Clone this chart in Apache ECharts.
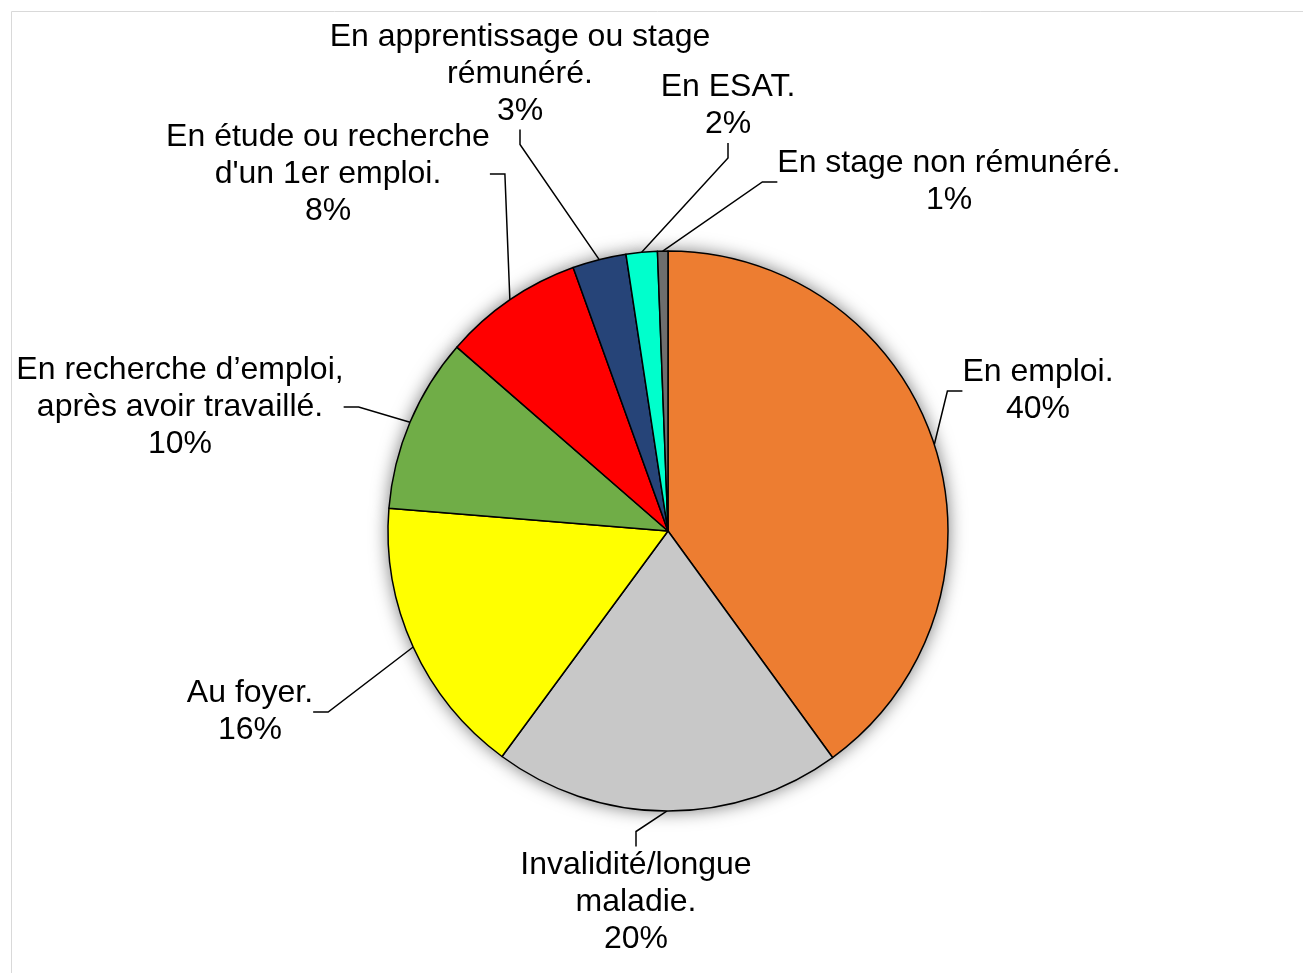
<!DOCTYPE html>
<html>
<head>
<meta charset="utf-8">
<script src="https://cdn.jsdelivr.net/npm/echarts@6/dist/echarts.min.js"></script>
<style>
  html, body { margin: 0; padding: 0; background: #fff; }
  #chart { width: 1303px; height: 973px; }
</style>
</head>
<body>
<div id="chart"></div>
<script>
// situation des répondants (parts en %)
const categories = [
  "En emploi.",
  "Invalidité/longue\nmaladie.",
  "Au foyer.",
  "En recherche d\u2019emploi,\naprès avoir travaillé.",
  "En étude ou recherche\nd'un 1er emploi.",
  "En apprentissage ou stage\nrémunéré.",
  "En ESAT.",
  "En stage non rémunéré."
];
const values = [40.0, 20.1, 16.2, 10.1, 8.1, 3.1, 1.8, 0.6];
const colors = ["#ED7D31", "#C8C8C8", "#FFFF00", "#70AD47", "#FF0000", "#264478", "#00FFCC", "#6E6E6E"];

// centre des étiquettes (px)
const labelPos = [
  [1038, 391], [636, 902], [250, 712], [180, 407],
  [328, 174], [520, 74], [728, 106], [949, 182]
];

const myecharts = echarts.init(document.getElementById("chart"));

const pieData = categories.map((name, i) => ({
  name: name,
  value: values[i],
  itemStyle: { color: colors[i] }
}));

myecharts.setOption({
  animation: false,
  graphic: [
    {
      type: "rect",
      shape: { x: 11.5, y: 11.5, width: 1400, height: 1000 },
      style: { fill: "none", stroke: "#D9D9D9", lineWidth: 1 },
      z: -10
    }
  ],
  series: [
    {
      // ombre douce sous le camembert
      type: "pie",
      silent: true,
      center: [668, 531],
      radius: 280,
      startAngle: 90,
      z: 1,
      label: { show: false },
      labelLine: { show: false },
      itemStyle: {
        color: "#fff",
        shadowBlur: 18,
        shadowColor: "rgba(0,0,0,0.55)"
      },
      emphasis: { disabled: true },
      data: values.map(v => ({ value: v }))
    },
    {
      type: "pie",
      center: [668, 531],
      radius: 280,
      startAngle: 90,
      clockwise: true,
      z: 2,
      itemStyle: { borderColor: "#000", borderWidth: 1.5 },
      label: {
        show: true,
        position: "outside",
        fontFamily: "Liberation Sans, Arial, sans-serif",
        fontSize: 32,
        lineHeight: 37,
        color: "#000",
        align: "center",
        formatter: p => p.name + "\n" + Math.round(p.percent) + "%"
      },
      labelLine: {
        show: true,
        length: 15,
        length2: 15,
        lineStyle: { color: "#000", width: 1.5 }
      },
      labelLayout: function (p) {
        const pos = labelPos[p.dataIndex];
        return { x: pos[0], y: pos[1], align: "center", verticalAlign: "middle" };
      },
      emphasis: { disabled: true },
      data: pieData
    }
  ]
});
</script>
</body>
</html>
